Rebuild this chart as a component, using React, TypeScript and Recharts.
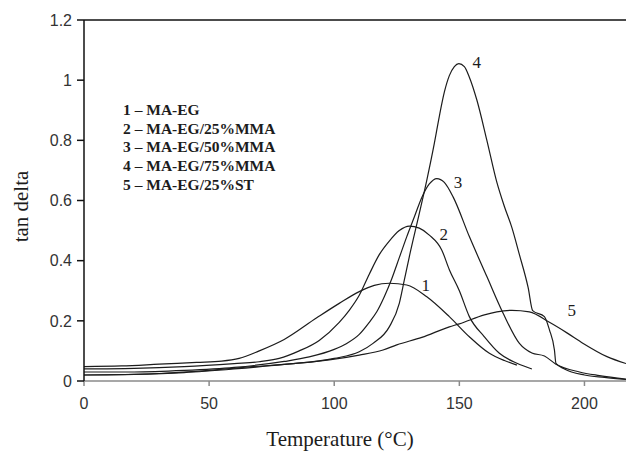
import { LineChart, Line, XAxis, YAxis, ReferenceLine, ReferenceDot, Label } from "recharts";

// sample names, in legend order
const NAMES = ["MA-EG", "MA-EG/25%MMA", "MA-EG/50%MMA", "MA-EG/75%MMA", "MA-EG/25%ST"];

// temperature (°C) and tan delta
const T1 = [0, 15, 30, 45, 55, 62, 70, 80, 93, 102, 110, 116, 122, 129, 137, 146, 154, 162, 168, 173];
const V1 = [0.048, 0.05, 0.056, 0.062, 0.066, 0.075, 0.1, 0.138, 0.21, 0.258, 0.297, 0.318, 0.325, 0.319, 0.28, 0.214, 0.147, 0.092, 0.068, 0.053];

const T2 = [0, 20, 40, 60, 70, 78, 86, 94, 102, 106, 110, 114, 118, 122, 126, 130, 134, 138, 143, 146, 150, 154, 160, 166, 173, 179];
const V2 = [0.04, 0.042, 0.048, 0.058, 0.064, 0.075, 0.1, 0.135, 0.195, 0.235, 0.285, 0.355, 0.42, 0.465, 0.5, 0.515, 0.508, 0.485, 0.435, 0.37, 0.3, 0.214, 0.147, 0.092, 0.059, 0.04];

const T3 = [0, 20, 40, 60, 80, 90, 100, 105, 110, 114, 117, 120, 123, 126, 129, 132, 135, 138, 141, 144, 147.5, 154, 161, 167.5, 174, 179, 184, 188.6, 198, 206, 216.6];
const V3 = [0.03, 0.03, 0.035, 0.045, 0.065, 0.08, 0.105, 0.125, 0.155, 0.195, 0.23, 0.28, 0.34, 0.41, 0.48, 0.545, 0.61, 0.655, 0.673, 0.66, 0.612, 0.48, 0.347, 0.225, 0.125, 0.093, 0.083, 0.056, 0.03, 0.018, 0.006];

const T4 = [0, 20, 40, 60, 80, 100, 110, 115.5, 122, 126, 128, 130, 134, 137, 140, 142, 144, 146, 148, 149.8, 152, 154, 157, 161, 165, 168, 171, 174, 177.5, 179.3, 184, 186, 188, 188.6, 192, 200, 208, 216.6];
const V4 = [0.02, 0.022, 0.028, 0.04, 0.055, 0.075, 0.097, 0.125, 0.18, 0.258, 0.335, 0.413, 0.557, 0.668, 0.79, 0.88, 0.96, 1.015, 1.045, 1.055, 1.045, 1.01, 0.934, 0.8, 0.66, 0.58, 0.51, 0.42, 0.31, 0.234, 0.214, 0.17, 0.103, 0.059, 0.04, 0.02, 0.012, 0.005];

const T5 = [0, 30, 50, 66, 80, 98, 110, 119.5, 125, 135, 146, 150, 160, 165, 171, 178, 186, 193, 199.5, 209, 216.6];
const V5 = [0.02, 0.025, 0.035, 0.047, 0.055, 0.07, 0.086, 0.103, 0.12, 0.145, 0.18, 0.19, 0.22, 0.23, 0.235, 0.23, 0.195, 0.16, 0.125, 0.081, 0.058];

const X_TICKS = [0, 50, 100, 150, 200];
const Y_TICKS = [0, 0.2, 0.4, 0.6, 0.8, 1, 1.2];

// curve number labels next to each peak
const CURVE_LABELS = [
  { n: "1", t: 136.6, v: 0.319 },
  { n: "2", t: 143.8, v: 0.488 },
  { n: "3", t: 149.5, v: 0.66 },
  { n: "4", t: 157, v: 1.06 },
  { n: "5", t: 194.9, v: 0.236 },
];

const toPoints = (ts: number[], vs: number[]) => ts.map((t, i) => ({ t, v: vs[i] }));
const SERIES = [toPoints(T1, V1), toPoints(T2, V2), toPoints(T3, V3), toPoints(T4, V4), toPoints(T5, V5)];

const SERIF = '"Liberation Serif", "Times New Roman", serif';
const SANS = '"Liberation Sans", Arial, sans-serif';
const INK = "#1c1c1c";

export default function App() {
  return (
    <div style={{ position: "absolute", left: 0, top: 0, width: 626, height: 452, background: "#fff" }}>
      <LineChart width={626} height={452} margin={{ top: 20, right: 0, bottom: 0, left: 0 }}>
        <XAxis
          dataKey="t"
          type="number"
          domain={[0, 216.6]}
          ticks={X_TICKS}
          allowDataOverflow
          height={71}
          stroke="#8a8a8a"
          strokeWidth={1.5}
          tickSize={5}
          tickMargin={12}
          tick={{ fontSize: 16, fontFamily: SANS, fill: "#333" }}
        >
          <Label
            content={({ viewBox }: any) => (
              <text x={viewBox.x + viewBox.width / 2 - 15} y={446} textAnchor="middle" fontFamily={SERIF} fontSize={21} fill={INK}>
                Temperature (°C)
              </text>
            )}
          />
        </XAxis>
        <YAxis
          type="number"
          domain={[0, 1.2]}
          ticks={Y_TICKS}
          width={84}
          stroke="#111"
          strokeWidth={1.5}
          tickSize={7}
          tickMargin={5}
          tick={{ fontSize: 16, fontFamily: SANS, fill: "#333" }}
        >
          <Label
            content={({ viewBox }: any) => {
              const cx = 28;
              const cy = viewBox.y + viewBox.height / 2 + 6;
              return (
                <text x={cx} y={cy} transform={`rotate(-90 ${cx} ${cy})`} textAnchor="middle" fontFamily={SERIF} fontSize={21} fill={INK}>
                  tan delta
                </text>
              );
            }}
          />
        </YAxis>
        <ReferenceLine y={1.2} stroke="#111" strokeWidth={1.5} />
        {SERIES.map((d, i) => (
          <Line
            key={NAMES[i]}
            data={d}
            dataKey="v"
            type="monotone"
            stroke={INK}
            strokeWidth={1.2}
            dot={false}
            isAnimationActive={false}
          />
        ))}
        {CURVE_LABELS.map((l) => (
          <ReferenceDot
            key={l.n}
            x={l.t}
            y={l.v}
            r={0}
            fill="none"
            stroke="none"
            label={{ value: l.n, position: "center", fontFamily: SERIF, fontSize: 17, fill: INK }}
          />
        ))}
      </LineChart>
      <div
        style={{
          position: "absolute",
          left: 123,
          top: 101,
          fontFamily: SERIF,
          fontWeight: "bold",
          fontSize: 15.5,
          lineHeight: "18.7px",
          color: INK,
          whiteSpace: "nowrap",
        }}
      >
        {NAMES.map((n, i) => (
          <div key={n}>
            {i + 1} – {n}
          </div>
        ))}
      </div>
    </div>
  );
}
